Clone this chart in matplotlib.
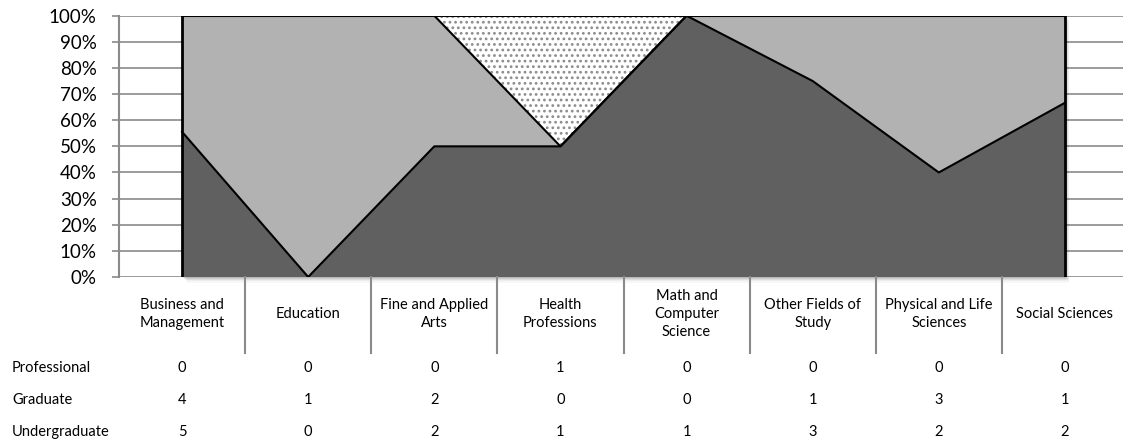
import numpy as np
import matplotlib
matplotlib.use("Agg")
import matplotlib.pyplot as plt
import matplotlib.transforms as mtransforms
from matplotlib.lines import Line2D

plt.rcParams['font.family'] = ['Lato', 'DejaVu Sans']
plt.rcParams['hatch.linewidth'] = 1.2

categories = ["Business and\nManagement", "Education", "Fine and Applied\nArts",
              "Health\nProfessions", "Math and\nComputer\nScience", "Other Fields of\nStudy",
              "Physical and Life\nSciences", "Social Sciences"]
row_names = ["Professional", "Graduate", "Undergraduate"]
professional = [0, 0, 0, 1, 0, 0, 0, 0]
graduate = [4, 1, 2, 0, 0, 1, 3, 1]
undergraduate = [5, 0, 2, 1, 1, 3, 2, 2]

W, H = 1123, 442
fig = plt.figure(figsize=(W / 100, H / 100), dpi=100)
ax = fig.add_axes([119 / W, 1 - 277 / H, (1128 - 119) / W, (277 - 15.7) / H])

u = np.array(undergraduate, dtype=float)
g = np.array(graduate, dtype=float)
p = np.array(professional, dtype=float)
tot = u + g + p
u_pct = u / tot
ug_pct = (u + g) / tot
x = np.arange(len(categories))

ax.set_xlim(-0.5, len(categories) - 0.5)
ax.set_ylim(0, 1)

# gridlines
for v in np.arange(0, 1.01, 0.1):
    ax.axhline(v, color='#8a8a8a', lw=1.2, zorder=1)

# soft shadow under the area
for i, a in zip(range(1, 6), [0.10, 0.08, 0.06, 0.04, 0.03]):
    off = mtransforms.offset_copy(ax.transData, fig=fig, x=i * 0.9, y=-i * 1.1, units='dots')
    ax.fill_between([x[0], x[-1]], [0, 0], [1, 1], color='black', alpha=a, lw=0,
                    transform=off, zorder=2, clip_on=False)

ax.fill_between(x, 0, u_pct, facecolor='#606060', lw=0, zorder=3)
ax.fill_between(x, u_pct, ug_pct, facecolor='#b2b2b2', lw=0, zorder=3)
ax.fill_between(x, ug_pct, 1, facecolor='white', edgecolor='#8c8c8c', hatch='...', lw=0, zorder=3)

ax.plot(x, u_pct, color='black', lw=1.5, zorder=4)
ax.plot(x, ug_pct, color='black', lw=1.5, zorder=4)
ax.plot(x, np.ones_like(x, dtype=float), color='black', lw=1.5, zorder=4)
ax.plot([x[0], x[0]], [0, 1], color='black', lw=2, zorder=4)
ax.plot([x[-1], x[-1]], [0, 1], color='black', lw=2, zorder=4)

for s in ['top', 'right', 'bottom']:
    ax.spines[s].set_visible(False)
ax.spines['left'].set_color('#8a8a8a')
ax.spines['left'].set_linewidth(1.5)
ax.set_yticks(np.arange(0, 1.01, 0.1))
ax.set_yticklabels([f"{int(round(v * 100))}%" for v in np.arange(0, 1.01, 0.1)], fontsize=13.5)
ax.tick_params(axis='y', length=5, width=1.2, color='#8a8a8a', pad=11)
ax.set_xticks([])

# data table below the chart
bt = mtransforms.blended_transform_factory(ax.transData, fig.transFigure)
for i, c in enumerate(categories):
    fig.text(x[i], 1 - 314 / H, c, transform=bt, ha='center', va='center',
             fontsize=10.5, linespacing=1.4)
for k in range(len(categories) - 1):
    fig.add_artist(Line2D([k + 0.5, k + 0.5], [1 - 277 / H, 1 - 353 / H], transform=bt,
                          color='#8a8a8a', lw=1.5))

rows = [professional, graduate, undergraduate]
row_y = [368, 400, 432]
for name, vals, yy in zip(row_names, rows, row_y):
    fig.text(12 / W, 1 - yy / H, name, ha='left', va='center', fontsize=10.5)
    for i, v in enumerate(vals):
        fig.text(x[i], 1 - yy / H, str(v), transform=bt, ha='center', va='center', fontsize=10.5)

fig.savefig("out.png", dpi=100)
